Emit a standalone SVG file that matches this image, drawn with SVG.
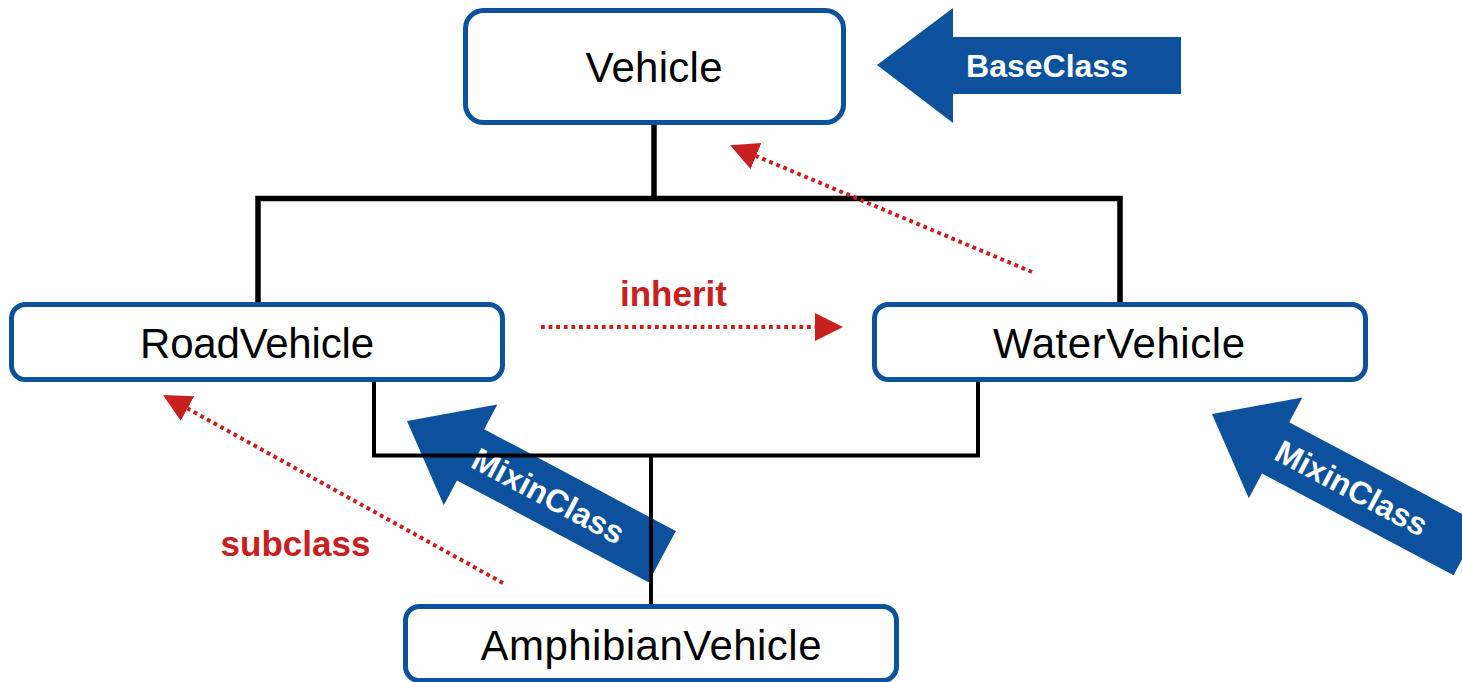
<svg xmlns="http://www.w3.org/2000/svg" width="1462" height="682" viewBox="0 0 1462 682">
  <style>
    .node rect { fill: #ffffff; stroke: #0c519c; stroke-width: 5; }
    .node text { font-family: "Liberation Sans", Arial, sans-serif; font-size: 42px; fill: #000000; text-anchor: middle; }
    .tag polygon { fill: #0c519c; }
    .tag text { font-family: "Liberation Sans", Arial, sans-serif; font-size: 32px; font-weight: bold; fill: #ffffff; text-anchor: middle; }
    .tree { fill: none; stroke: #000000; stroke-linejoin: miter; stroke-linecap: butt; }
    .dotted { fill: none; stroke: #c8201f; stroke-width: 4; stroke-dasharray: 3.8 3.8; }
    .redlabel { font-family: "Liberation Sans", Arial, sans-serif; font-size: 35px; font-weight: bold; fill: #c8201f; text-anchor: middle; }
  </style>
  <defs>
    <marker id="redHead" viewBox="0 0 28 28" markerWidth="28" markerHeight="28" markerUnits="userSpaceOnUse" refX="0" refY="14" orient="auto">
      <path d="M0,0 L28,14 L0,28 Z" fill="#c8201f"/>
    </marker>
  </defs>

  <rect x="0" y="0" width="1462" height="682" fill="#ffffff"/>

  <!-- BaseClass annotation arrow -->
  <g id="baseclass-tag" class="tag">
    <polygon points="877,65 953,8 953,37 1181,37 1181,94 953,94 953,123"/>
    <text x="1047" y="77">BaseClass</text>
  </g>

  <!-- MixinClass annotation arrows -->
  <g id="mixin-tag-1" class="tag" transform="translate(407,421) rotate(28)">
    <polygon points="0,0 72,-57 72,-29 289,-29 289,29 72,29 72,57"/>
    <text x="160" y="11">MixinClass</text>
  </g>
  <g id="mixin-tag-2" class="tag" transform="translate(1212,414) rotate(28)">
    <polygon points="0,0 72,-57 72,-29 289,-29 289,29 72,29 72,57"/>
    <text x="158" y="11">MixinClass</text>
  </g>

  <!-- Connectors -->
  <g id="connectors">
    <polyline class="tree" stroke-width="5.5" points="654,124 654,198.5"/>
    <polyline class="tree" stroke-width="5.5" points="258,304 258,198.5 1120,198.5 1120,304"/>
    <polyline class="tree" stroke-width="4" points="374,380 374,455.5 978,455.5 978,380"/>
    <polyline class="tree" stroke-width="4" points="651,455.5 651,606"/>

    <line class="dotted" x1="1032" y1="272" x2="756" y2="156" marker-end="url(#redHead)"/>
    <line class="dotted" x1="541" y1="327" x2="815" y2="327" marker-end="url(#redHead)"/>
    <line class="dotted" x1="503" y1="583" x2="187.5" y2="408.5" marker-end="url(#redHead)"/>
    <text class="redlabel" x="673.5" y="306">inherit</text>
    <text class="redlabel" x="295.5" y="556">subclass</text>
  </g>

  <!-- Nodes -->
  <g id="node-vehicle" class="node">
    <rect x="465.5" y="10.5" width="378" height="112" rx="18"/>
    <text x="654" y="82" textLength="137">Vehicle</text>
  </g>
  <g id="node-roadvehicle" class="node">
    <rect x="11.5" y="304.5" width="491" height="75" rx="14"/>
    <text x="257" y="358" textLength="234">RoadVehicle</text>
  </g>
  <g id="node-watervehicle" class="node">
    <rect x="874.5" y="304.5" width="491" height="75" rx="14"/>
    <text x="1119" y="358" textLength="252">WaterVehicle</text>
  </g>
  <g id="node-amphibianvehicle" class="node">
    <rect x="405.5" y="606.5" width="491" height="74" rx="14"/>
    <text x="651" y="660" textLength="341">AmphibianVehicle</text>
  </g>
</svg>
